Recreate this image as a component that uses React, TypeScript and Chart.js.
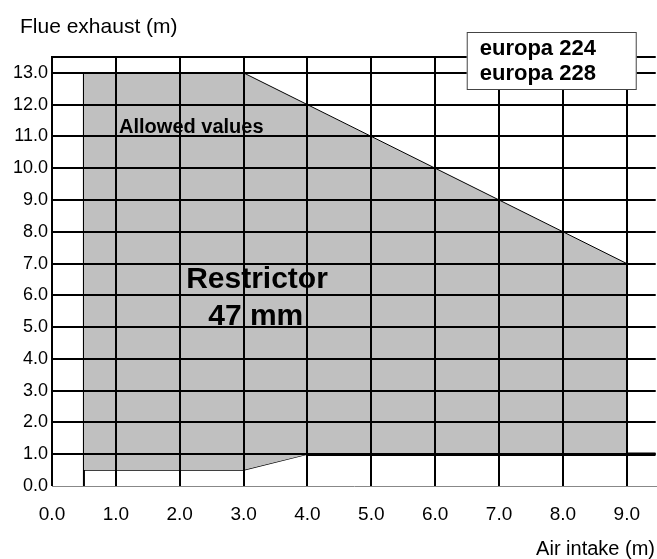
import React, { useEffect, useRef } from 'react';
import { Chart, registerables } from 'chart.js';

Chart.register(...registerables);

// Axis ticks
const xTicks = [0, 1, 2, 3, 4, 5, 6, 7, 8, 9];
const yTicks = [0, 1, 2, 3, 4, 5, 6, 7, 8, 9, 10, 11, 12, 13];
const xMax = 9.453;
const yMax = 13.5;

// Allowed region: upper and lower boundary
const upperX = [0.5, 3, 9];
const upperY = [13, 13, 7];
const lowerX = [0.5, 3, 4, 9];
const lowerY = [0.5, 0.5, 1, 1];

// Minimum flue limit line (thick) and left edge of the region
const limitX = [4, xMax];
const limitY = [1, 1];
const edgeX = [0.5, 0.5];
const edgeY = [0, 13];

// Texts
const legendLines = ['europa 224', 'europa 228'];
const yTitle = 'Flue exhaust (m)';
const xTitle = 'Air intake (m)';
const notes = [
  { text: 'Allowed values', x: 1.05, y: 11.1, size: 20, align: 'left' },
  { text: 'Restrictor', x: 3.21, y: 6.23, size: 30, align: 'center' },
  { text: '47 mm', x: 3.19, y: 5.07, size: 30, align: 'center' },
];

const FONT = '"Liberation Sans", Arial, Helvetica, sans-serif';

const pts = (xs: number[], ys: number[]) => xs.map((x, i) => ({ x, y: ys[i] }));

const textPlugin = {
  id: 'texts',
  afterDraw(chart: any) {
    const { ctx, scales, chartArea } = chart;
    const xs = scales.x;
    const ys = scales.y;
    ctx.save();
    ctx.fillStyle = '#000';
    ctx.textBaseline = 'alphabetic';
    // notes
    notes.forEach((n) => {
      ctx.font = `bold ${n.size}px ${FONT}`;
      ctx.textAlign = n.align as CanvasTextAlign;
      ctx.fillText(n.text, xs.getPixelForValue(n.x), ys.getPixelForValue(n.y));
    });
    // axis titles
    ctx.font = `21px ${FONT}`;
    ctx.textAlign = 'left';
    ctx.fillText(yTitle, 20, chartArea.top - 24);
    ctx.font = `20px ${FONT}`;
    ctx.textAlign = 'right';
    ctx.fillText(xTitle, chart.width - 2, chart.height - 4);
    // legend box
    const bx = chartArea.right - 189;
    const by = chartArea.top - 25;
    const bw = 170;
    const bh = 58;
    ctx.fillStyle = '#fff';
    ctx.fillRect(bx, by, bw, bh);
    ctx.strokeStyle = '#444';
    ctx.lineWidth = 1;
    ctx.strokeRect(bx + 0.5, by + 0.5, bw - 1, bh - 1);
    ctx.fillStyle = '#000';
    ctx.font = `bold 22px ${FONT}`;
    ctx.textAlign = 'left';
    legendLines.forEach((t, i) => {
      ctx.fillText(t, bx + 13, by + 23 + i * 25);
    });
    ctx.restore();
  },
};

export default function App() {
  const ref = useRef<HTMLCanvasElement | null>(null);
  useEffect(() => {
    if (!ref.current) return;
    const chart = new Chart(ref.current, {
      type: 'scatter',
      data: {
        datasets: [
          {
            data: pts(upperX, upperY),
            showLine: true,
            borderColor: '#000',
            borderWidth: 1,
            backgroundColor: '#c0c0c0',
            pointRadius: 0,
            fill: '+1',
          } as any,
          {
            data: pts(lowerX, lowerY),
            showLine: true,
            borderColor: '#000',
            borderWidth: 1.2,
            pointRadius: 0,
            fill: false,
          },
          {
            data: pts(limitX, limitY),
            showLine: true,
            borderColor: '#000',
            borderWidth: 3.5,
            pointRadius: 0,
            fill: false,
          },
          {
            data: pts(edgeX, edgeY),
            showLine: true,
            borderColor: '#000',
            borderWidth: 2,
            pointRadius: 0,
            fill: false,
          },
        ],
      },
      options: {
        animation: false,
        responsive: false,
        layout: { padding: { top: 57, right: 0, left: 0, bottom: 0 } },
        plugins: { legend: { display: false }, tooltip: { enabled: false }, title: { display: false } },
        scales: {
          x: {
            type: 'linear',
            min: 0,
            max: xMax,
            afterBuildTicks: (s: any) => {
              s.ticks = xTicks.map((v) => ({ value: v }));
            },
            afterFit: (s: any) => {
              s.height = 73;
            },
            grid: { color: '#000', lineWidth: 2, drawTicks: false, z: 1 },
            border: { display: true, color: '#888', width: 1, z: 1 },
            ticks: {
              color: '#000',
              padding: 17,
              font: { size: 19, family: FONT },
              callback: (v: any) => Number(v).toFixed(1),
            },
          },
          y: {
            type: 'linear',
            min: 0,
            max: yMax,
            afterBuildTicks: (s: any) => {
              s.ticks = [...yTicks, yMax].map((v) => ({ value: v }));
            },
            afterFit: (s: any) => {
              s.width = 52;
            },
            grid: {
              color: '#000',
              lineWidth: (c: any) => (c.tick && c.tick.value === 0 ? 0 : 2),
              drawTicks: false,
              z: 1,
            },
            border: { display: true, color: '#000', width: 2, z: 1 },
            ticks: {
              color: '#000',
              padding: 4,
              font: { size: 18, family: FONT },
              callback: (v: any) => (yTicks.includes(Number(v)) ? Number(v).toFixed(1) : ''),
            },
          },
        },
      },
      plugins: [textPlugin],
    });
    return () => chart.destroy();
  }, []);
  return (
    <canvas
      ref={ref}
      width={657}
      height={559}
      style={{ position: 'absolute', left: 0, top: 0, width: 657, height: 559 }}
    />
  );
}
